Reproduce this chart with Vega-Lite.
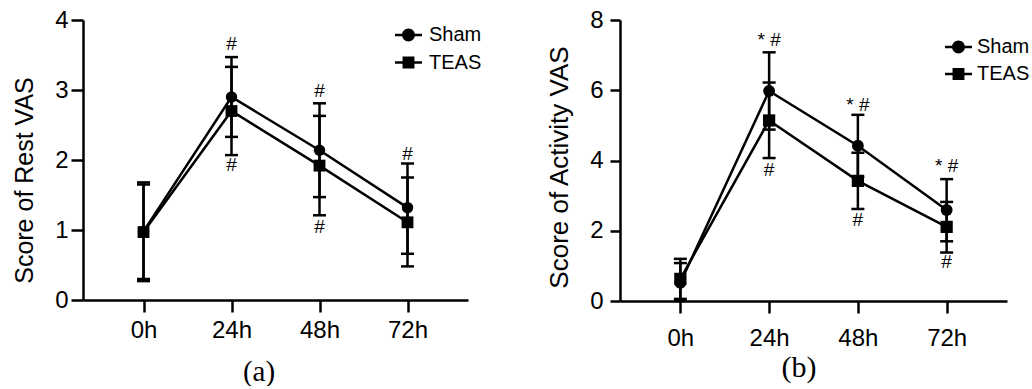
{
  "$schema": "https://vega.github.io/schema/vega-lite/v6.json",
  "padding": {"left": 12, "top": 8, "right": 0, "bottom": 0},
  "bounds": "flush",
  "spacing": 152,
  "config": {
    "view": {"stroke": null},
    "font": "Liberation Sans",
    "axis": {"grid": false, "domainColor": "black", "domainWidth": 2.5, "tickColor": "black", "tickWidth": 2.5, "labelColor": "black", "titleColor": "black", "labelFont": "Liberation Sans", "labelFontSize": 24, "titleFontWeight": "normal"}
  },
  "resolve": {"scale": {"shape": "independent", "x": "independent", "y": "independent"}, "legend": {"shape": "independent"}},
  "datasets": {
    "vasA": [
      {"time": "0h", "group": "Sham", "mean": 0.98, "lo": 0.30, "hi": 1.68},
      {"time": "24h", "group": "Sham", "mean": 2.90, "lo": 2.33, "hi": 3.47},
      {"time": "48h", "group": "Sham", "mean": 2.14, "lo": 1.47, "hi": 2.81},
      {"time": "72h", "group": "Sham", "mean": 1.32, "lo": 0.66, "hi": 1.95},
      {"time": "0h", "group": "TEAS", "mean": 0.97, "lo": 0.27, "hi": 1.65},
      {"time": "24h", "group": "TEAS", "mean": 2.70, "lo": 2.07, "hi": 3.33},
      {"time": "48h", "group": "TEAS", "mean": 1.92, "lo": 1.21, "hi": 2.63},
      {"time": "72h", "group": "TEAS", "mean": 1.11, "lo": 0.48, "hi": 1.75}
    ],
    "vasB": [
      {"time": "0h", "group": "Sham", "mean": 0.52, "lo": 0.0, "hi": 1.08},
      {"time": "24h", "group": "Sham", "mean": 5.98, "lo": 4.88, "hi": 7.08},
      {"time": "48h", "group": "Sham", "mean": 4.42, "lo": 3.54, "hi": 5.30},
      {"time": "72h", "group": "Sham", "mean": 2.59, "lo": 1.70, "hi": 3.47},
      {"time": "0h", "group": "TEAS", "mean": 0.63, "lo": 0.06, "hi": 1.20},
      {"time": "24h", "group": "TEAS", "mean": 5.14, "lo": 4.07, "hi": 6.22},
      {"time": "48h", "group": "TEAS", "mean": 3.42, "lo": 2.62, "hi": 4.22},
      {"time": "72h", "group": "TEAS", "mean": 2.11, "lo": 1.38, "hi": 2.82}
    ],
    "annA": [
      {"time": "24h", "y": 3.66, "label": "#"},
      {"time": "24h", "y": 1.93, "label": "#"},
      {"time": "48h", "y": 2.98, "label": "#"},
      {"time": "48h", "y": 1.04, "label": "#"},
      {"time": "72h", "y": 2.09, "label": "#"}
    ],
    "annB": [
      {"time": "24h", "y": 7.44, "label": "* #"},
      {"time": "24h", "y": 3.73, "label": "#"},
      {"time": "48h", "y": 5.58, "label": "* #"},
      {"time": "48h", "y": 2.31, "label": "#"},
      {"time": "72h", "y": 3.83, "label": "* #"},
      {"time": "72h", "y": 1.11, "label": "#"}
    ]
  },
  "hconcat": [
    {
      "width": 385,
      "height": 280,
      "data": {"name": "vasA"},
      "layer": [
        {
          "mark": {"type": "line", "color": "black", "strokeWidth": 2.5},
          "encoding": {
            "x": {"field": "time", "type": "ordinal", "scale": {"type": "point", "padding": 0.6875, "domain": ["0h", "24h", "48h", "72h"]},
                  "axis": {"title": "(a)", "titleFont": "Liberation Serif", "titleFontSize": 29, "titleX": 175.5, "titleY": 71, "titleBaseline": "middle", "titleAlign": "center", "titleAngle": 0, "labelAngle": 0, "tickSize": 12, "labelPadding": 6}},
            "y": {"field": "mean", "type": "quantitative", "scale": {"domain": [0, 4]},
                  "axis": {"title": "Score of Rest VAS", "values": [0, 1, 2, 3, 4], "format": "d", "titleFont": "Liberation Sans", "titleFontSize": 25, "titleX": -46, "titleY": 160, "titleAngle": 270, "titleBaseline": "bottom", "titleAlign": "center", "tickSize": 12, "labelPadding": 3}},
            "detail": {"field": "group"}
          }
        },
        {
          "mark": {"type": "rule", "color": "black", "strokeWidth": 2.5},
          "encoding": {"x": {"field": "time", "type": "ordinal"}, "y": {"field": "lo", "type": "quantitative"}, "y2": {"field": "hi"}}
        },
        {
          "mark": {"type": "tick", "orient": "horizontal", "color": "black", "thickness": 2.5, "size": 13, "opacity": 1},
          "encoding": {"x": {"field": "time", "type": "ordinal"}, "y": {"field": "lo", "type": "quantitative"}}
        },
        {
          "mark": {"type": "tick", "orient": "horizontal", "color": "black", "thickness": 2.5, "size": 13, "opacity": 1},
          "encoding": {"x": {"field": "time", "type": "ordinal"}, "y": {"field": "hi", "type": "quantitative"}}
        },
        {
          "transform": [{"filter": "datum.group === 'Sham'"}],
          "mark": {"type": "point", "shape": "circle", "filled": true, "color": "black", "size": 130, "opacity": 1},
          "encoding": {"x": {"field": "time", "type": "ordinal"}, "y": {"field": "mean", "type": "quantitative"}}
        },
        {
          "transform": [{"filter": "datum.group === 'TEAS'"}],
          "mark": {"type": "point", "shape": "square", "filled": true, "color": "black", "size": 140, "opacity": 1},
          "encoding": {"x": {"field": "time", "type": "ordinal"}, "y": {"field": "mean", "type": "quantitative"}}
        },
        {
          "mark": {"type": "point", "filled": true, "color": "black", "opacity": 0},
          "encoding": {
            "x": {"field": "time", "type": "ordinal"},
            "y": {"field": "mean", "type": "quantitative"},
            "shape": {"field": "group", "type": "nominal",
              "scale": {"domain": ["Sham", "TEAS"], "range": ["M-1,-0.09H-0.46V0.09H-1Z M0.46,-0.09H1V0.09H0.46Z M-0.48,0A0.48,0.48 0 1,1 0.48,0A0.48,0.48 0 1,1 -0.48,0Z", "M-1,-0.09H1V0.09H-1Z M-0.44,-0.44H0.44V0.44H-0.44Z"]},
              "legend": {"orient": "none", "legendX": 312, "legendY": 1.5, "title": null, "symbolSize": 729, "symbolOpacity": 1, "symbolFillColor": "black", "symbolStrokeWidth": 0, "labelFont": "Liberation Sans", "labelFontSize": 20, "labelColor": "black", "labelOffset": 7, "rowPadding": 3.5, "padding": 0}}
          }
        },
        {
          "data": {"name": "annA"},
          "mark": {"type": "text", "font": "Liberation Sans", "fontSize": 19, "color": "black", "baseline": "middle", "align": "center"},
          "encoding": {"x": {"field": "time", "type": "ordinal"}, "y": {"field": "y", "type": "quantitative"}, "text": {"field": "label"}}
        }
      ]
    },
    {
      "width": 387,
      "height": 281,
      "data": {"name": "vasB"},
      "layer": [
        {
          "mark": {"type": "line", "color": "black", "strokeWidth": 2.5},
          "encoding": {
            "x": {"field": "time", "type": "ordinal", "scale": {"type": "point", "padding": 0.68, "domain": ["0h", "24h", "48h", "72h"]},
                  "axis": {"title": "(b)", "titleFont": "Liberation Serif", "titleFontSize": 30, "titleX": 178.5, "titleY": 66, "titleBaseline": "middle", "titleAlign": "center", "titleAngle": 0, "labelAngle": 0, "tickSize": 12, "labelPadding": 13}},
            "y": {"field": "mean", "type": "quantitative", "scale": {"domain": [0, 8]},
                  "axis": {"title": "Score of Activity VAS", "values": [0, 2, 4, 6, 8], "format": "d", "titleFont": "Liberation Sans", "titleFontSize": 26, "titleX": -47.5, "titleY": 147, "titleAngle": 270, "titleBaseline": "bottom", "titleAlign": "center", "tickSize": 10, "labelPadding": 7}},
            "detail": {"field": "group"}
          }
        },
        {
          "mark": {"type": "rule", "color": "black", "strokeWidth": 2.5},
          "encoding": {"x": {"field": "time", "type": "ordinal"}, "y": {"field": "lo", "type": "quantitative"}, "y2": {"field": "hi"}}
        },
        {
          "mark": {"type": "tick", "orient": "horizontal", "color": "black", "thickness": 2.5, "size": 13, "opacity": 1},
          "encoding": {"x": {"field": "time", "type": "ordinal"}, "y": {"field": "lo", "type": "quantitative"}}
        },
        {
          "mark": {"type": "tick", "orient": "horizontal", "color": "black", "thickness": 2.5, "size": 13, "opacity": 1},
          "encoding": {"x": {"field": "time", "type": "ordinal"}, "y": {"field": "hi", "type": "quantitative"}}
        },
        {
          "transform": [{"filter": "datum.group === 'Sham'"}],
          "mark": {"type": "point", "shape": "circle", "filled": true, "color": "black", "size": 140, "opacity": 1},
          "encoding": {"x": {"field": "time", "type": "ordinal"}, "y": {"field": "mean", "type": "quantitative"}}
        },
        {
          "transform": [{"filter": "datum.group === 'TEAS'"}],
          "mark": {"type": "point", "shape": "square", "filled": true, "color": "black", "size": 150, "opacity": 1},
          "encoding": {"x": {"field": "time", "type": "ordinal"}, "y": {"field": "mean", "type": "quantitative"}}
        },
        {
          "mark": {"type": "point", "filled": true, "color": "black", "opacity": 0},
          "encoding": {
            "x": {"field": "time", "type": "ordinal"},
            "y": {"field": "mean", "type": "quantitative"},
            "shape": {"field": "group", "type": "nominal",
              "scale": {"domain": ["Sham", "TEAS"], "range": ["M-1,-0.09H-0.46V0.09H-1Z M0.46,-0.09H1V0.09H0.46Z M-0.48,0A0.48,0.48 0 1,1 0.48,0A0.48,0.48 0 1,1 -0.48,0Z", "M-1,-0.09H1V0.09H-1Z M-0.44,-0.44H0.44V0.44H-0.44Z"]},
              "legend": {"orient": "none", "legendX": 325, "legendY": 13.5, "title": null, "symbolSize": 729, "symbolOpacity": 1, "symbolFillColor": "black", "symbolStrokeWidth": 0, "labelFont": "Liberation Sans", "labelFontSize": 20, "labelColor": "black", "labelOffset": 5, "rowPadding": 3, "padding": 0}}
          }
        },
        {
          "data": {"name": "annB"},
          "mark": {"type": "text", "font": "Liberation Sans", "fontSize": 19, "color": "black", "baseline": "middle", "align": "center"},
          "encoding": {"x": {"field": "time", "type": "ordinal"}, "y": {"field": "y", "type": "quantitative"}, "text": {"field": "label"}}
        }
      ]
    }
  ]
}
